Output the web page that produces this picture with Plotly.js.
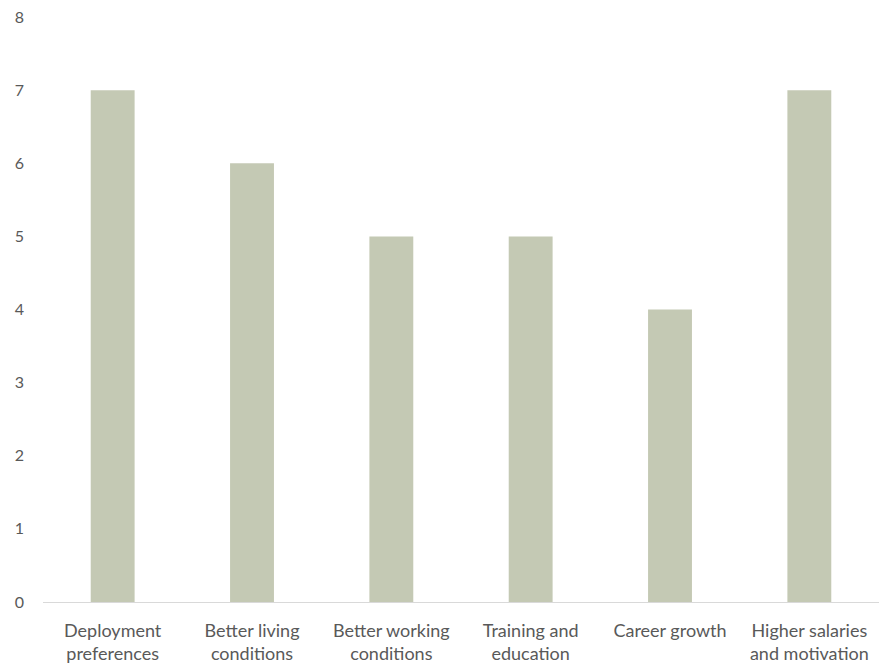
<!DOCTYPE html>
<html>
<head>
<meta charset="utf-8">
<script src="https://cdn.plot.ly/plotly-3.0.1.min.js"></script>
<style>html,body{margin:0;padding:0;background:#fff;}#chart{width:881px;height:663px;}</style>
</head>
<body>
<div id="chart"></div>
<script>
const categories = [
  "Deployment<br>preferences",
  "Better living<br>conditions",
  "Better working<br>conditions",
  "Training and<br>education",
  "Career growth",
  "Higher salaries<br>and motivation"
];
const values = [7, 6, 5, 5, 4, 7];
const yTicks = [0, 1, 2, 3, 4, 5, 6, 7, 8];

const trace = {
  type: "bar",
  x: categories,
  y: values,
  marker: { color: "#c4c9b4" },
  hoverinfo: "x+y"
};

const layout = {
  width: 881,
  height: 663,
  margin: { l: 43, r: 2, t: 17, b: 61 },
  paper_bgcolor: "#ffffff",
  plot_bgcolor: "#ffffff",
  bargap: 0.685,
  showlegend: false,
  font: { family: "Lato, 'Open Sans', sans-serif", size: 16, color: "#595959" },
  xaxis: {
    showgrid: false,
    zeroline: false,
    showline: true,
    linecolor: "#d9d9d9",
    linewidth: 1,
    ticks: "",
    ticklabelstandoff: 12,
    tickfont: { size: 18, color: "#595959" },
    automargin: false
  },
  yaxis: {
    range: [0, 8],
    tickvals: yTicks,
    showgrid: false,
    zeroline: false,
    showline: false,
    ticks: "",
    ticklabelstandoff: 18,
    tickfont: { size: 16, color: "#595959" },
    automargin: false
  }
};

Plotly.newPlot("chart", [trace], layout, { displayModeBar: false, staticPlot: true });
</script>
</body>
</html>
